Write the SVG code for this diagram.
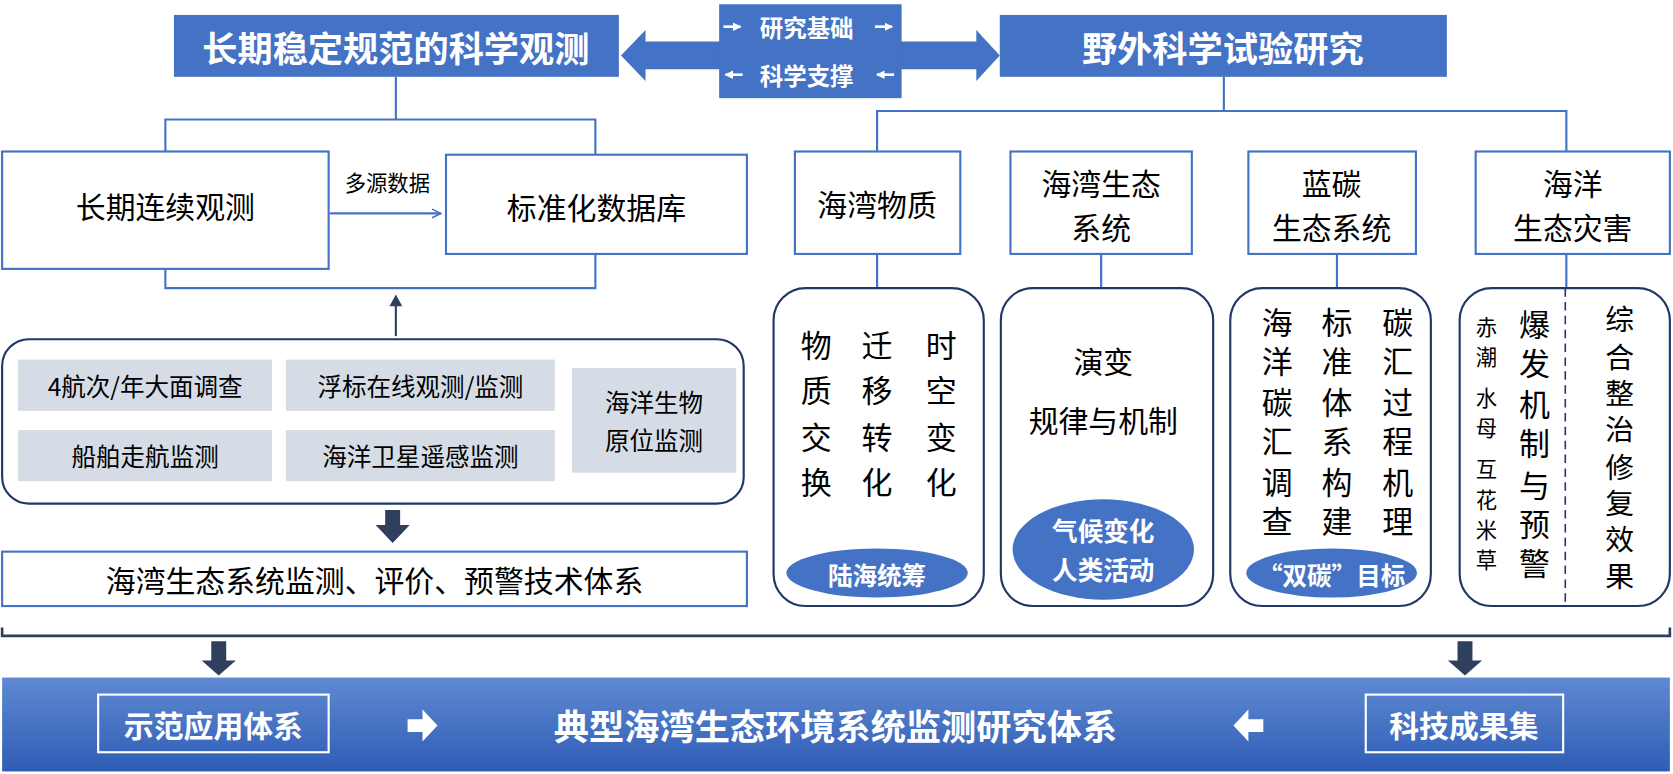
<svg xmlns="http://www.w3.org/2000/svg" width="1673" height="774" viewBox="0 0 1673 774">
<style>
text{font-family:"Noto Sans CJK SC","Liberation Sans",sans-serif;text-anchor:middle;dominant-baseline:central}
.bt{fill:#fff;font-weight:bold}
.ln{stroke:#4472C4;stroke-width:2;fill:none}
.bx{fill:#fff;stroke:#4472C4;stroke-width:2}
.rb{fill:#fff;stroke:#1F3864;stroke-width:2}
.gy{fill:#D6DCE5}
.t{fill:#000}
.dk{fill:#2F3F5E}
</style>
<defs>
<linearGradient id="g" x1="0" y1="0" x2="0" y2="1"><stop offset="0" stop-color="#5F89D2"/><stop offset="1" stop-color="#2F5DB5"/></linearGradient>
<marker id="oa" markerWidth="10" markerHeight="10" refX="9" refY="5" orient="auto" markerUnits="userSpaceOnUse"><path d="M1,1 L9,5 L1,9" fill="none" stroke="#4472C4" stroke-width="1.5"/></marker>
<marker id="wa" markerWidth="8" markerHeight="8" refX="7" refY="4" orient="auto" markerUnits="userSpaceOnUse"><path d="M0,0 L8,4 L0,8 Z" fill="#fff"/></marker>
</defs>
<rect width="1673" height="774" fill="#fff"/>
<g transform="scale(1.067)">
<g id="connectors">
<path d="M582,52 L605,28 L605,39 L915,39 L915,28 L937,52 L915,76 L915,65 L605,65 L605,76 Z" fill="#4472C4"/>
<path class="ln" d="M371,72 V112 M155,142 V112 H558 V145 M155,252 V270 H558 V238 M1147,72 V104 M822,142 V104 H1468 V142 M822,238 V270 M1032,238 V270 M1253,238 V270 M1468,238 V270"/>
<path class="ln" d="M309,200 H413" marker-end="url(#oa)"/>
<text x="363" y="170" font-size="20" class="t">多源数据</text>
<path d="M371,315 V284" stroke="#2F3F5E" stroke-width="2"/>
<path class="dk" d="M365,287 L371,276 L377,287 Z"/>
<path class="dk" d="M361,478 H375 V492 H384 L368,509 L352,492 H361 Z"/>
<path d="M2,588 V596 H1565 V588" fill="none" stroke="#2F3F5E" stroke-width="2.5"/>
<path class="dk" d="M198,601 H212 V619 H221 L205,633 L189,619 H198 Z"/>
<path class="dk" d="M1366,601 H1380 V619 H1389 L1373,633 L1357,619 H1366 Z"/>
</g>
<g id="title-left"><rect x="163" y="14" width="417" height="58" fill="#4472C4"/><text x="371" y="44" font-size="33" class="bt">长期稳定规范的科学观测</text></g>
<g id="title-right"><rect x="937" y="14" width="419" height="58" fill="#4472C4"/><text x="1146" y="44" font-size="33" class="bt">野外科学试验研究</text></g>
<g id="mid"><rect x="674" y="4" width="171" height="88" fill="#4472C4"/>
<path d="M678,25 H694" stroke="#fff" stroke-width="2.5" marker-end="url(#wa)"/><text x="756" y="25" font-size="22" class="bt">研究基础</text><path d="M820,25 H836" stroke="#fff" stroke-width="2.5" marker-end="url(#wa)"/>
<path d="M696,70 H680" stroke="#fff" stroke-width="2.5" marker-end="url(#wa)"/><text x="756" y="70" font-size="22" class="bt">科学支撑</text><path d="M838,70 H822" stroke="#fff" stroke-width="2.5" marker-end="url(#wa)"/></g>
<g id="n1"><rect class="bx" x="2" y="142" width="306" height="110"/><text x="155" y="192" font-size="28" class="t">长期连续观测</text></g>
<g id="n2"><rect class="bx" x="418" y="145" width="282" height="93"/><text x="559" y="193" font-size="28" class="t">标准化数据库</text></g>
<g id="obs"><rect class="rb" x="2" y="318" width="695" height="154" rx="25"/>
<rect class="gy" x="17" y="337" width="238" height="48"/><text x="136" y="361" font-size="23" class="t">4航次/年大面调查</text>
<rect class="gy" x="268" y="337" width="252" height="48"/><text x="394" y="361" font-size="23" class="t">浮标在线观测/监测</text>
<rect class="gy" x="17" y="403" width="238" height="48"/><text x="136" y="427" font-size="23" class="t">船舶走航监测</text>
<rect class="gy" x="268" y="403" width="252" height="48"/><text x="394" y="427" font-size="23" class="t">海洋卫星遥感监测</text>
<rect class="gy" x="536" y="345" width="154" height="98"/><text x="613" y="376" font-size="23" class="t">海洋生物</text><text x="613" y="412" font-size="23" class="t">原位监测</text></g>
<g id="sys"><rect class="bx" x="2" y="517" width="698" height="51"/><text x="351" y="543" font-size="28" class="t">海湾生态系统监测、评价、预警技术体系</text></g>
<g id="r1"><rect class="bx" x="745" y="142" width="155" height="96"/><text x="822" y="190" font-size="28" class="t">海湾物质</text></g>
<g id="r2"><rect class="bx" x="947" y="142" width="170" height="96"/><text x="1032" y="171" font-size="28" class="t">海湾生态</text><text x="1032" y="212" font-size="28" class="t">系统</text></g>
<g id="r3"><rect class="bx" x="1170" y="142" width="157" height="96"/><text x="1248" y="171" font-size="28" class="t">蓝碳</text><text x="1248" y="212" font-size="28" class="t">生态系统</text></g>
<g id="r4"><rect class="bx" x="1383" y="142" width="182" height="96"/><text x="1474" y="171" font-size="28" class="t">海洋</text><text x="1474" y="212" font-size="28" class="t">生态灾害</text></g>
<g id="ra" font-size="29"><rect class="rb" x="725" y="270" width="197" height="298" rx="30"/>
<text x="765" y="322" class="t">物</text><text x="765" y="364" class="t">质</text><text x="765" y="408" class="t">交</text><text x="765" y="450" class="t">换</text>
<text x="822" y="322" class="t">迁</text><text x="822" y="364" class="t">移</text><text x="822" y="408" class="t">转</text><text x="822" y="450" class="t">化</text>
<text x="882" y="322" class="t">时</text><text x="882" y="364" class="t">空</text><text x="882" y="408" class="t">变</text><text x="882" y="450" class="t">化</text>
<ellipse cx="822" cy="537" rx="85" ry="23" fill="#4472C4"/><text x="822" y="538" font-size="23" class="bt">陆海统筹</text></g>
<g id="rb"><rect class="rb" x="938" y="270" width="199" height="298" rx="30"/>
<text x="1034" y="337" font-size="28" class="t">演变</text><text x="1034" y="393" font-size="28" class="t">规律与机制</text>
<ellipse cx="1034" cy="515" rx="85" ry="47" fill="#4472C4"/><text x="1034" y="496" font-size="24" class="bt">气候变化</text><text x="1034" y="533" font-size="24" class="bt">人类活动</text></g>
<g id="rc" font-size="29"><rect class="rb" x="1153" y="270" width="188" height="298" rx="30"/>
<text x="1197" y="300" class="t">海</text><text x="1197" y="337" class="t">洋</text><text x="1197" y="375" class="t">碳</text><text x="1197" y="412" class="t">汇</text><text x="1197" y="450" class="t">调</text><text x="1197" y="487" class="t">查</text>
<text x="1253" y="300" class="t">标</text><text x="1253" y="337" class="t">准</text><text x="1253" y="375" class="t">体</text><text x="1253" y="412" class="t">系</text><text x="1253" y="450" class="t">构</text><text x="1253" y="487" class="t">建</text>
<text x="1310" y="300" class="t">碳</text><text x="1310" y="337" class="t">汇</text><text x="1310" y="375" class="t">过</text><text x="1310" y="412" class="t">程</text><text x="1310" y="450" class="t">机</text><text x="1310" y="487" class="t">理</text>
<ellipse cx="1248" cy="537" rx="80" ry="23" fill="#4472C4"/><text x="1248" y="538" font-size="23" class="bt">“双碳”目标</text></g>
<g id="rd"><rect class="rb" x="1368" y="270" width="197" height="298" rx="30"/>
<path d="M1467,270 V568" stroke="#1F3864" stroke-width="1.5" stroke-dasharray="8,5"/>
<g font-size="20"><text x="1393" y="305" class="t">赤</text><text x="1393" y="333" class="t">潮</text><text x="1393" y="372" class="t">水</text><text x="1393" y="400" class="t">母</text><text x="1393" y="438" class="t">互</text><text x="1393" y="467" class="t">花</text><text x="1393" y="495" class="t">米</text><text x="1393" y="523" class="t">草</text></g>
<g font-size="29"><text x="1438" y="302" class="t">爆</text><text x="1438" y="339" class="t">发</text><text x="1438" y="377" class="t">机</text><text x="1438" y="414" class="t">制</text><text x="1438" y="453" class="t">与</text><text x="1438" y="490" class="t">预</text><text x="1438" y="526" class="t">警</text></g>
<g font-size="27"><text x="1518" y="298" class="t">综</text><text x="1518" y="333" class="t">合</text><text x="1518" y="367" class="t">整</text><text x="1518" y="401" class="t">治</text><text x="1518" y="436" class="t">修</text><text x="1518" y="470" class="t">复</text><text x="1518" y="504" class="t">效</text><text x="1518" y="538" class="t">果</text></g></g>
<g id="bottom"><rect x="2" y="635" width="1563" height="88" fill="url(#g)"/>
<rect x="92" y="651" width="216" height="54" fill="none" stroke="#fff" stroke-width="2"/><text x="200" y="679" font-size="28" class="bt">示范应用体系</text>
<rect x="1280" y="651" width="185" height="54" fill="none" stroke="#fff" stroke-width="2"/><text x="1372" y="679" font-size="28" class="bt">科技成果集</text>
<text x="783" y="679" font-size="33" class="bt">典型海湾生态环境系统监测研究体系</text>
<path d="M382,674 H396 V665 L410,680 L396,695 V686 H382 Z" fill="#fff"/>
<path d="M1184,674 H1170 V665 L1156,680 L1170,695 V686 H1184 Z" fill="#fff"/></g>
</g>
</svg>
